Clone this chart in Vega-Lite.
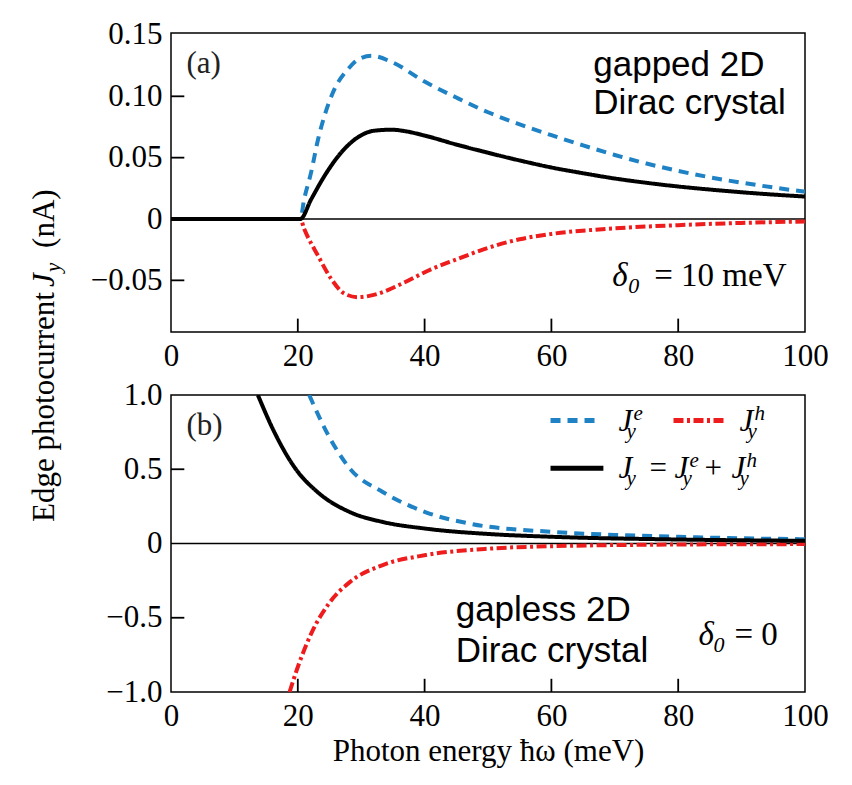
{
  "$schema": "https://vega.github.io/schema/vega-lite/v6.json",
  "background": "white",
  "padding": {"left": 27, "top": 18, "right": 26, "bottom": 15},
  "bounds": "flush",
  "spacing": 63,
  "datasets": {
    "a": [
      {"series": "electron", "E": 0, "J": 0},
      {"series": "electron", "E": 20.4, "J": 0},
      {"series": "electron", "E": 21, "J": 0.016},
      {"series": "electron", "E": 22.1, "J": 0.038},
      {"series": "electron", "E": 23.2, "J": 0.065},
      {"series": "electron", "E": 24.2, "J": 0.084},
      {"series": "electron", "E": 25.8, "J": 0.106},
      {"series": "electron", "E": 27.9, "J": 0.122},
      {"series": "electron", "E": 29.5, "J": 0.130},
      {"series": "electron", "E": 31.6, "J": 0.133},
      {"series": "electron", "E": 34.8, "J": 0.128},
      {"series": "electron", "E": 40, "J": 0.112},
      {"series": "electron", "E": 45, "J": 0.099},
      {"series": "electron", "E": 50, "J": 0.087},
      {"series": "electron", "E": 55, "J": 0.0772},
      {"series": "electron", "E": 60, "J": 0.0683},
      {"series": "electron", "E": 65, "J": 0.060},
      {"series": "electron", "E": 70, "J": 0.0522},
      {"series": "electron", "E": 75, "J": 0.0452},
      {"series": "electron", "E": 80, "J": 0.0392},
      {"series": "electron", "E": 85, "J": 0.034},
      {"series": "electron", "E": 90, "J": 0.0296},
      {"series": "electron", "E": 95, "J": 0.0257},
      {"series": "electron", "E": 100, "J": 0.0222},
      {"series": "hole", "E": 0, "J": 0},
      {"series": "hole", "E": 20.4, "J": 0},
      {"series": "hole", "E": 21, "J": -0.008},
      {"series": "hole", "E": 23.2, "J": -0.030},
      {"series": "hole", "E": 25.3, "J": -0.049},
      {"series": "hole", "E": 27.4, "J": -0.061},
      {"series": "hole", "E": 29.5, "J": -0.0637},
      {"series": "hole", "E": 32.6, "J": -0.061},
      {"series": "hole", "E": 36.3, "J": -0.053},
      {"series": "hole", "E": 41, "J": -0.041},
      {"series": "hole", "E": 45, "J": -0.033},
      {"series": "hole", "E": 50, "J": -0.0235},
      {"series": "hole", "E": 55, "J": -0.0165},
      {"series": "hole", "E": 60, "J": -0.0122},
      {"series": "hole", "E": 70, "J": -0.0076},
      {"series": "hole", "E": 80, "J": -0.005},
      {"series": "hole", "E": 90, "J": -0.0032},
      {"series": "hole", "E": 100, "J": -0.002},
      {"series": "total", "E": 0, "J": 0},
      {"series": "total", "E": 20.4, "J": 0},
      {"series": "total", "E": 22.1, "J": 0.016},
      {"series": "total", "E": 24.2, "J": 0.035},
      {"series": "total", "E": 26.9, "J": 0.0545},
      {"series": "total", "E": 29.5, "J": 0.0667},
      {"series": "total", "E": 32.1, "J": 0.072},
      {"series": "total", "E": 34.8, "J": 0.0728},
      {"series": "total", "E": 37, "J": 0.0715},
      {"series": "total", "E": 40, "J": 0.068},
      {"series": "total", "E": 45, "J": 0.0607},
      {"series": "total", "E": 50, "J": 0.054},
      {"series": "total", "E": 55, "J": 0.0477},
      {"series": "total", "E": 60, "J": 0.042},
      {"series": "total", "E": 65, "J": 0.0373},
      {"series": "total", "E": 70, "J": 0.033},
      {"series": "total", "E": 75, "J": 0.0295},
      {"series": "total", "E": 80, "J": 0.0265},
      {"series": "total", "E": 85, "J": 0.024},
      {"series": "total", "E": 90, "J": 0.0218},
      {"series": "total", "E": 95, "J": 0.0199},
      {"series": "total", "E": 100, "J": 0.0183}
    ],
    "b": [
      {"series": "electron", "E": 21.8, "J": 1.0},
      {"series": "electron", "E": 24.8, "J": 0.73},
      {"series": "electron", "E": 28.3, "J": 0.50},
      {"series": "electron", "E": 33.4, "J": 0.347},
      {"series": "electron", "E": 40.2, "J": 0.21},
      {"series": "electron", "E": 47.1, "J": 0.134},
      {"series": "electron", "E": 60.2, "J": 0.078},
      {"series": "electron", "E": 70, "J": 0.058},
      {"series": "electron", "E": 80, "J": 0.045},
      {"series": "electron", "E": 90, "J": 0.035},
      {"series": "electron", "E": 100, "J": 0.029},
      {"series": "hole", "E": 18.7, "J": -1.0},
      {"series": "hole", "E": 20.1, "J": -0.82},
      {"series": "hole", "E": 22.3, "J": -0.59},
      {"series": "hole", "E": 24.8, "J": -0.41},
      {"series": "hole", "E": 28.3, "J": -0.257},
      {"series": "hole", "E": 33.4, "J": -0.145},
      {"series": "hole", "E": 40.2, "J": -0.078},
      {"series": "hole", "E": 50.5, "J": -0.034},
      {"series": "hole", "E": 60.2, "J": -0.018},
      {"series": "hole", "E": 80, "J": -0.007},
      {"series": "hole", "E": 100, "J": -0.004},
      {"series": "total", "E": 13.7, "J": 1.0},
      {"series": "total", "E": 16.3, "J": 0.75},
      {"series": "total", "E": 19.7, "J": 0.5},
      {"series": "total", "E": 23.1, "J": 0.347},
      {"series": "total", "E": 28.3, "J": 0.21},
      {"series": "total", "E": 33.4, "J": 0.145},
      {"series": "total", "E": 40.2, "J": 0.10},
      {"series": "total", "E": 50.5, "J": 0.063},
      {"series": "total", "E": 60.2, "J": 0.045},
      {"series": "total", "E": 80, "J": 0.027},
      {"series": "total", "E": 100, "J": 0.018}
    ],
    "xticks": [{"t": 20}, {"t": 40}, {"t": 60}, {"t": 80}],
    "yticksA": [{"t": -0.05}, {"t": 0.05}, {"t": 0.1}],
    "yticksB": [{"t": -0.5}, {"t": 0.5}]
  },
  "config": {
    "font": "Liberation Serif",
    "view": {"stroke": "black", "strokeWidth": 1.5},
    "axis": {
      "grid": false, "domain": false, "ticks": false,
      "labelFont": "Liberation Serif", "labelFontSize": 31, "labelColor": "black",
      "titleFont": "Liberation Serif", "titleFontSize": 31, "titleColor": "black", "titleFontWeight": "normal",
      "labelFlush": false, "labelOverlap": false
    },
    "axisX": {"labelPadding": 9},
    "axisY": {"labelPadding": 9}
  },
  "vconcat": [
    {
      "width": 634,
      "height": 299,
      "layer": [
        {
          "data": {"values": [{}]},
          "mark": {"type": "rule", "color": "black", "strokeWidth": 1.5},
          "encoding": {"y": {"datum": 0}}
        },
        {
          "data": {"name": "xticks"},
          "mark": {"type": "rule", "color": "black", "strokeWidth": 1.8},
          "encoding": {"x": {"field": "t", "type": "quantitative"}, "y": {"datum": -0.0921}, "y2": {"datum": -0.0812}}
        },
        {
          "data": {"name": "yticksA"},
          "mark": {"type": "rule", "color": "black", "strokeWidth": 1.8},
          "encoding": {"y": {"field": "t", "type": "quantitative"}, "x": {"datum": 0}, "x2": {"datum": 2.1}}
        },
        {
          "data": {"name": "a"},
          "mark": {"type": "line", "strokeWidth": 4, "interpolate": "monotone", "clip": true},
          "encoding": {
            "x": {"field": "E", "type": "quantitative", "scale": {"domain": [0, 100], "nice": false},
                  "axis": {"values": [0, 20, 40, 60, 80, 100], "title": null}},
            "y": {"field": "J", "type": "quantitative", "scale": {"domain": [-0.0921, 0.1516], "nice": false, "zero": false},
                  "axis": {"values": [-0.05, 0, 0.05, 0.1, 0.15], "title": null,
                           "labelExpr": "datum.value == 0 ? '0' : format(datum.value, '.2f')"}},
            "color": {"field": "series", "type": "nominal", "legend": null,
                      "scale": {"domain": ["electron", "hole", "total"], "range": ["#1f82c4", "#ee1c1c", "#000000"]}},
            "strokeDash": {"field": "series", "type": "nominal", "legend": null,
                           "scale": {"domain": ["electron", "hole", "total"], "range": [[10, 7], [10, 3.5, 3, 3.5], [1, 0]]}}
          }
        },
        {
          "data": {"values": [{}]},
          "mark": {"type": "text", "text": "(a)", "fontSize": 31, "align": "left", "baseline": "alphabetic", "color": "#222222"},
          "encoding": {"x": {"datum": 2.44}, "y": {"datum": 0.119}}
        },
        {
          "data": {"values": [{}]},
          "mark": {"type": "text", "text": ["gapped 2D", "Dirac crystal"], "font": "Liberation Sans", "fontSize": 35, "lineHeight": 38, "align": "left", "baseline": "alphabetic", "color": "black"},
          "encoding": {"x": {"datum": 66.6}, "y": {"datum": 0.1163}}
        },
        {
          "data": {"values": [{}]},
          "mark": {"type": "text", "text": "δ", "fontSize": 33, "fontStyle": "italic", "align": "left", "baseline": "alphabetic", "color": "black"},
          "encoding": {"x": {"datum": 69.6}, "y": {"datum": -0.0546}}
        },
        {
          "data": {"values": [{}]},
          "mark": {"type": "text", "text": "0", "fontSize": 22, "fontStyle": "italic", "align": "left", "baseline": "alphabetic", "color": "black", "dx": 16, "dy": 7},
          "encoding": {"x": {"datum": 69.6}, "y": {"datum": -0.0546}}
        },
        {
          "data": {"values": [{}]},
          "mark": {"type": "text", "text": "= 10 meV", "fontSize": 33, "align": "left", "baseline": "alphabetic", "color": "black", "dx": 42},
          "encoding": {"x": {"datum": 69.6}, "y": {"datum": -0.0546}}
        },
        {
          "data": {"values": [{}]},
          "mark": {"type": "text", "text": "Edge photocurrent", "fontSize": 31, "angle": 270, "align": "left", "baseline": "alphabetic", "color": "black"},
          "encoding": {"x": {"datum": -18.53}, "y": {"datum": -0.2469}}
        },
        {
          "data": {"values": [{}]},
          "mark": {"type": "text", "text": "J", "fontSize": 31, "fontStyle": "italic", "angle": 270, "align": "left", "baseline": "alphabetic", "color": "black", "dx": 235},
          "encoding": {"x": {"datum": -18.53}, "y": {"datum": -0.2469}}
        },
        {
          "data": {"values": [{}]},
          "mark": {"type": "text", "text": "y", "fontSize": 21, "fontStyle": "italic", "angle": 270, "align": "left", "baseline": "alphabetic", "color": "black", "dx": 250, "dy": 6},
          "encoding": {"x": {"datum": -18.53}, "y": {"datum": -0.2469}}
        },
        {
          "data": {"values": [{}]},
          "mark": {"type": "text", "text": "(nA)", "fontSize": 31, "angle": 270, "align": "left", "baseline": "alphabetic", "color": "black", "dx": 274},
          "encoding": {"x": {"datum": -18.53}, "y": {"datum": -0.2469}}
        }
      ]
    },
    {
      "width": 634,
      "height": 297,
      "layer": [
        {
          "data": {"values": [{}]},
          "mark": {"type": "rule", "color": "black", "strokeWidth": 1.5},
          "encoding": {"y": {"datum": 0}}
        },
        {
          "data": {"name": "xticks"},
          "mark": {"type": "rule", "color": "black", "strokeWidth": 1.8},
          "encoding": {"x": {"field": "t", "type": "quantitative"}, "y": {"datum": -1}, "y2": {"datum": -0.911}}
        },
        {
          "data": {"name": "yticksB"},
          "mark": {"type": "rule", "color": "black", "strokeWidth": 1.8},
          "encoding": {"y": {"field": "t", "type": "quantitative"}, "x": {"datum": 0}, "x2": {"datum": 2.1}}
        },
        {
          "data": {"name": "b"},
          "mark": {"type": "line", "strokeWidth": 4, "interpolate": "monotone", "clip": true},
          "encoding": {
            "x": {"field": "E", "type": "quantitative", "scale": {"domain": [0, 100], "nice": false},
                  "axis": {"values": [0, 20, 40, 60, 80, 100], "title": "Photon energy ħω (meV)", "titlePadding": 5}},
            "y": {"field": "J", "type": "quantitative", "scale": {"domain": [-1, 1], "nice": false, "zero": false},
                  "axis": {"values": [-1, -0.5, 0, 0.5, 1], "title": null,
                           "labelExpr": "datum.value == 0 ? '0' : format(datum.value, '.1f')"}},
            "color": {"field": "series", "type": "nominal", "legend": null,
                      "scale": {"domain": ["electron", "hole", "total"], "range": ["#1f82c4", "#ee1c1c", "#000000"]}},
            "strokeDash": {"field": "series", "type": "nominal", "legend": null,
                           "scale": {"domain": ["electron", "hole", "total"], "range": [[10, 7], [10, 3.5, 3, 3.5], [1, 0]]}}
          }
        },
        {
          "data": {"values": [{}]},
          "mark": {"type": "text", "text": "(b)", "fontSize": 31, "align": "left", "baseline": "alphabetic", "color": "#222222"},
          "encoding": {"x": {"datum": 2.44}, "y": {"datum": 0.731}}
        },
        {
          "data": {"values": [{}]},
          "mark": {"type": "text", "text": ["gapless 2D", "Dirac crystal"], "font": "Liberation Sans", "fontSize": 35, "lineHeight": 41, "align": "left", "baseline": "alphabetic", "color": "black"},
          "encoding": {"x": {"datum": 44.9}, "y": {"datum": -0.524}}
        },
        {
          "data": {"values": [{}]},
          "mark": {"type": "text", "text": "δ", "fontSize": 33, "fontStyle": "italic", "align": "left", "baseline": "alphabetic", "color": "black"},
          "encoding": {"x": {"datum": 83.2}, "y": {"datum": -0.681}}
        },
        {
          "data": {"values": [{}]},
          "mark": {"type": "text", "text": "0", "fontSize": 22, "fontStyle": "italic", "align": "left", "baseline": "alphabetic", "color": "black", "dx": 15, "dy": 7},
          "encoding": {"x": {"datum": 83.2}, "y": {"datum": -0.681}}
        },
        {
          "data": {"values": [{}]},
          "mark": {"type": "text", "text": "= 0", "fontSize": 33, "align": "left", "baseline": "alphabetic", "color": "black", "dx": 36},
          "encoding": {"x": {"datum": 83.2}, "y": {"datum": -0.681}}
        },
        {
          "data": {"values": [{}]},
          "mark": {"type": "rule", "color": "#1f82c4", "strokeWidth": 5, "strokeDash": [10, 7]},
          "encoding": {"x": {"datum": 59.86}, "x2": {"datum": 67.9}, "y": {"datum": 0.829}}
        },
        {
          "data": {"values": [{}]},
          "mark": {"type": "rule", "color": "#ee1c1c", "strokeWidth": 5, "strokeDash": [10, 3.5, 3, 3.5]},
          "encoding": {"x": {"datum": 79.26}, "x2": {"datum": 87.15}, "y": {"datum": 0.829}}
        },
        {
          "data": {"values": [{}]},
          "mark": {"type": "rule", "color": "black", "strokeWidth": 5},
          "encoding": {"x": {"datum": 59.86}, "x2": {"datum": 68.2}, "y": {"datum": 0.506}}
        },
        {
          "data": {"values": [{}]},
          "mark": {"type": "text", "text": "J", "fontSize": 31, "fontStyle": "italic", "align": "left", "baseline": "alphabetic", "color": "black"},
          "encoding": {"x": {"datum": 70.58}, "y": {"datum": 0.755}}
        },
        {
          "data": {"values": [{}]},
          "mark": {"type": "text", "text": "y", "fontSize": 21, "fontStyle": "italic", "align": "left", "baseline": "alphabetic", "color": "black", "dx": 8, "dy": 7},
          "encoding": {"x": {"datum": 70.58}, "y": {"datum": 0.755}}
        },
        {
          "data": {"values": [{}]},
          "mark": {"type": "text", "text": "e", "fontSize": 21, "fontStyle": "italic", "align": "left", "baseline": "alphabetic", "color": "black", "dx": 15, "dy": -11},
          "encoding": {"x": {"datum": 70.58}, "y": {"datum": 0.755}}
        },
        {
          "data": {"values": [{}]},
          "mark": {"type": "text", "text": "J", "fontSize": 31, "fontStyle": "italic", "align": "left", "baseline": "alphabetic", "color": "black"},
          "encoding": {"x": {"datum": 89.67}, "y": {"datum": 0.755}}
        },
        {
          "data": {"values": [{}]},
          "mark": {"type": "text", "text": "y", "fontSize": 21, "fontStyle": "italic", "align": "left", "baseline": "alphabetic", "color": "black", "dx": 8, "dy": 7},
          "encoding": {"x": {"datum": 89.67}, "y": {"datum": 0.755}}
        },
        {
          "data": {"values": [{}]},
          "mark": {"type": "text", "text": "h", "fontSize": 21, "fontStyle": "italic", "align": "left", "baseline": "alphabetic", "color": "black", "dx": 15, "dy": -11},
          "encoding": {"x": {"datum": 89.67}, "y": {"datum": 0.755}}
        },
        {
          "data": {"values": [{}]},
          "mark": {"type": "text", "text": "J", "fontSize": 31, "fontStyle": "italic", "align": "left", "baseline": "alphabetic", "color": "black"},
          "encoding": {"x": {"datum": 70.58}, "y": {"datum": 0.438}}
        },
        {
          "data": {"values": [{}]},
          "mark": {"type": "text", "text": "y", "fontSize": 21, "fontStyle": "italic", "align": "left", "baseline": "alphabetic", "color": "black", "dx": 8, "dy": 7},
          "encoding": {"x": {"datum": 70.58}, "y": {"datum": 0.438}}
        },
        {
          "data": {"values": [{}]},
          "mark": {"type": "text", "text": "=", "fontSize": 31, "align": "left", "baseline": "alphabetic", "color": "black", "dx": 31},
          "encoding": {"x": {"datum": 70.58}, "y": {"datum": 0.438}}
        },
        {
          "data": {"values": [{}]},
          "mark": {"type": "text", "text": "J", "fontSize": 31, "fontStyle": "italic", "align": "left", "baseline": "alphabetic", "color": "black", "dx": 56},
          "encoding": {"x": {"datum": 70.58}, "y": {"datum": 0.438}}
        },
        {
          "data": {"values": [{}]},
          "mark": {"type": "text", "text": "y", "fontSize": 21, "fontStyle": "italic", "align": "left", "baseline": "alphabetic", "color": "black", "dx": 64, "dy": 7},
          "encoding": {"x": {"datum": 70.58}, "y": {"datum": 0.438}}
        },
        {
          "data": {"values": [{}]},
          "mark": {"type": "text", "text": "e", "fontSize": 21, "fontStyle": "italic", "align": "left", "baseline": "alphabetic", "color": "black", "dx": 71, "dy": -11},
          "encoding": {"x": {"datum": 70.58}, "y": {"datum": 0.438}}
        },
        {
          "data": {"values": [{}]},
          "mark": {"type": "text", "text": "+", "fontSize": 31, "align": "left", "baseline": "alphabetic", "color": "black", "dx": 86},
          "encoding": {"x": {"datum": 70.58}, "y": {"datum": 0.438}}
        },
        {
          "data": {"values": [{}]},
          "mark": {"type": "text", "text": "J", "fontSize": 31, "fontStyle": "italic", "align": "left", "baseline": "alphabetic", "color": "black", "dx": 113},
          "encoding": {"x": {"datum": 70.58}, "y": {"datum": 0.438}}
        },
        {
          "data": {"values": [{}]},
          "mark": {"type": "text", "text": "y", "fontSize": 21, "fontStyle": "italic", "align": "left", "baseline": "alphabetic", "color": "black", "dx": 121, "dy": 7},
          "encoding": {"x": {"datum": 70.58}, "y": {"datum": 0.438}}
        },
        {
          "data": {"values": [{}]},
          "mark": {"type": "text", "text": "h", "fontSize": 21, "fontStyle": "italic", "align": "left", "baseline": "alphabetic", "color": "black", "dx": 128, "dy": -11},
          "encoding": {"x": {"datum": 70.58}, "y": {"datum": 0.438}}
        }
      ]
    }
  ]
}
